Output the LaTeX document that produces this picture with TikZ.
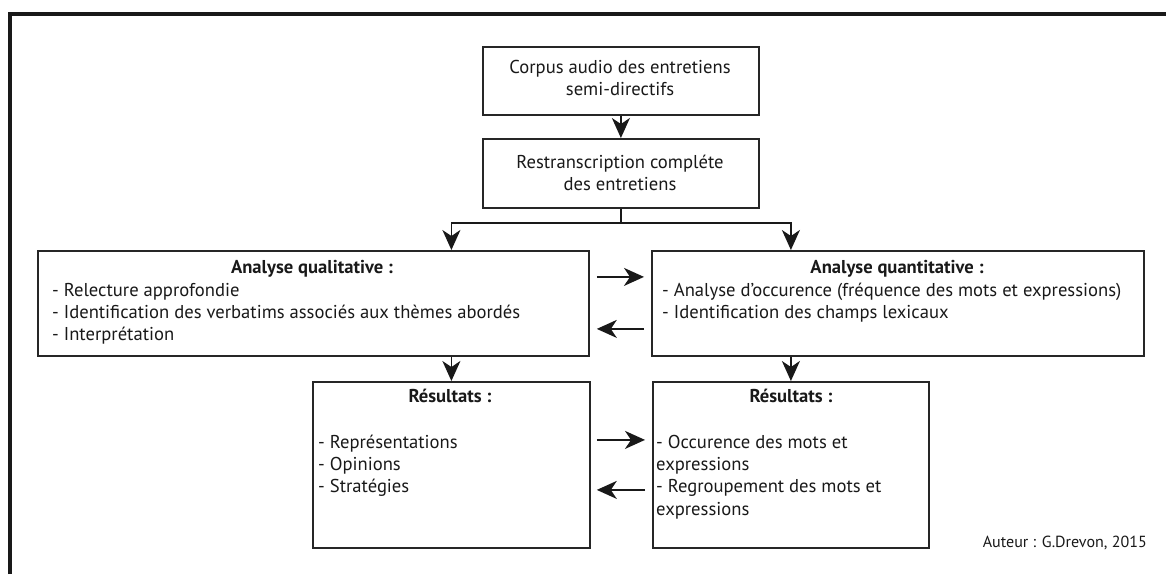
\documentclass[tikz,border=0pt]{standalone}
\usepackage{fontspec}
\setmainfont{PT Sans}
\usetikzlibrary{arrows.meta}
\newlength\wref
\newlength\wauth
\begin{document}
\settowidth\wref{\fontsize{10}{12}\selectfont - Identification des verbatims associés aux thèmes abordés}%
\settowidth\wauth{\fontsize{10}{12}\selectfont Auteur : G.Drevon, 2015}%
\pgfmathsetmacro\fs{10*468/\wref}%
\pgfmathsetmacro\fsa{10*164/\wauth}%
\begin{tikzpicture}[x=1pt,y=-1pt,
  box/.style={draw=black!85, line width=1.8pt, inner sep=0pt, anchor=north west},
  arr/.style={line width=1.8pt, draw=black!90, -{Stealth[length=20pt,width=18pt,inset=6pt]}},
  plain/.style={line width=1.8pt, draw=black!90},
  txt/.style={inner sep=0pt, text=black!90, font=\fontsize{\fs}{22.4}\selectfont},
  ttl/.style={txt, font=\fontsize{\fs}{22.4}\selectfont\bfseries, anchor=base},
  ctr/.style={txt, anchor=base},
  itm/.style={txt, anchor=base west}]
\useasboundingbox (0,0) rectangle (1166,574);
% frame
\draw[line width=4pt, black!90] (10,574) -- (10,14) -- (1166,14);
% boxes
\node[box, minimum width=276pt, minimum height=68pt] (b1) at (482,46) {};
\node[box, minimum width=276pt, minimum height=69pt] (b2) at (482,138) {};
\node[box, minimum width=551pt, minimum height=105pt] (ql) at (37,250) {};
\node[box, minimum width=492pt, minimum height=105pt] (qt) at (651,250) {};
\node[box, minimum width=277pt, minimum height=166pt] (r1) at (312,381) {};
\node[box, minimum width=276pt, minimum height=166pt] (r2) at (652,381) {};
% texts
\node[ctr] (t1a) at (620,73) {Corpus audio des entretiens};
\node[ctr] (t1b) at (620,95) {semi-directifs};
\node[ctr] (t2a) at (620,168) {Restranscription compléte};
\node[ctr] (t2b) at (620,190) {des entretiens};
\node[ttl] (qlh) at (312,273) {Analyse qualitative :};
\foreach \t [count=\i] in {- Relecture approfondie, - Identification des verbatims associés aux thèmes abordés, - Interprétation}
  \node[itm] (qli\i) at ({52},{296+(\i-1)*22.4}) {\t};
\node[ttl] (qth) at (897,273) {Analyse quantitative :};
\foreach \t [count=\i] in {- Analyse d’occurence (fréquence des mots et expressions), - Identification des champs lexicaux}
  \node[itm] (qti\i) at ({662},{296+(\i-1)*22.4}) {\t};
\node[ttl] (r1h) at (450,402) {Résultats :};
\foreach \t [count=\i] in {- Représentations, - Opinions, - Stratégies}
  \node[itm] (r1i\i) at ({318},{448+(\i-1)*22.4}) {\t};
\node[ttl] (r2h) at (791,402) {Résultats :};
\foreach \t [count=\i] in {- Occurence des mots et, expressions, - Regroupement des mots et, expressions}
  \node[itm] (r2i\i) at ({656},{448+(\i-1)*22.4}) {\t};
\node[inner sep=0pt, anchor=base east, text=black!90, font=\fontsize{\fsa}{18}\selectfont] (auth) at (1147,547) {Auteur : G.Drevon, 2015};
% connectors
\draw[arr] (b1) -- (b2);
\draw[plain] (b2.south) -- ++(0,14) coordinate (br);
\draw[arr] (br) -| (r1.north |- ql.north);
\draw[arr] (br) -| (r2.north |- qt.north);
\draw[arr] (r1.north |- ql.south) -- (r1.north);
\draw[arr] (r2.north |- qt.south) -- (r2.north);
\draw[arr, shorten <=7pt, shorten >=7pt] ([yshift=26.5pt]ql.east) -- ([yshift=26.5pt]qt.west);
\draw[arr, shorten <=7pt, shorten >=7pt] ([yshift=-25.5pt]qt.west) -- ([yshift=-25.5pt]ql.east);
\draw[arr, shorten <=6pt, shorten >=7pt] ([yshift=25pt]r1.east) -- ([yshift=25pt]r2.west);
\draw[arr, shorten <=7pt, shorten >=6pt] ([yshift=-25pt]r2.west) -- ([yshift=-25pt]r1.east);
\end{tikzpicture}
\end{document}
